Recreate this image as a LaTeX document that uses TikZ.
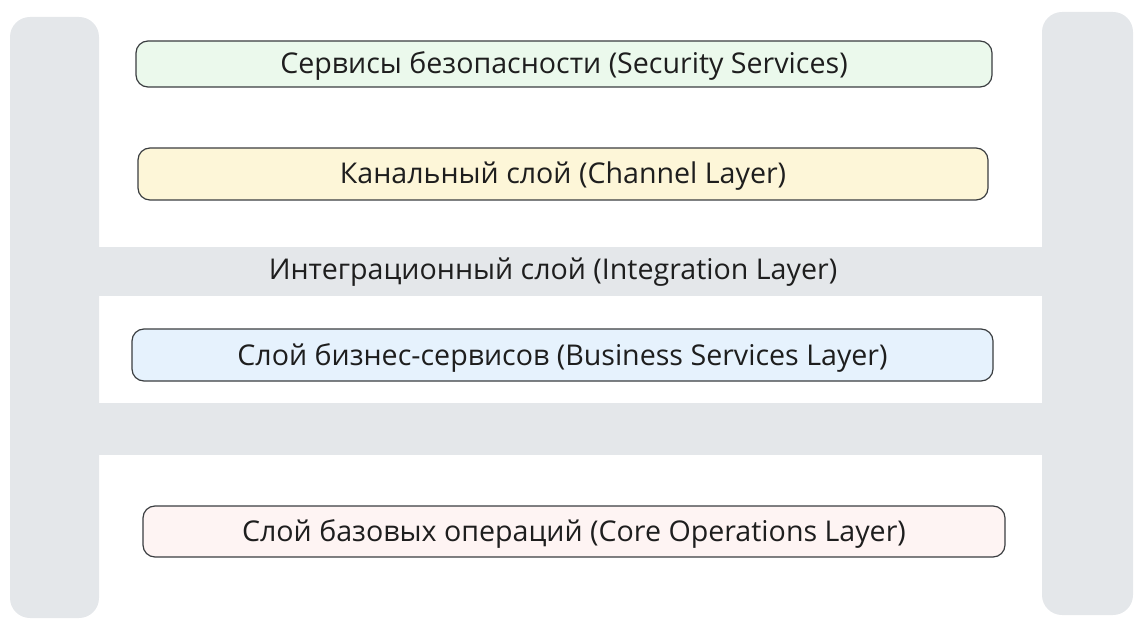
\documentclass[tikz,border=0pt]{standalone}
\usepackage{fontspec}
\setmainfont{Open Sans}
\definecolor{bandgray}{HTML}{E4E7EA}
\definecolor{secgreen}{HTML}{EBF9EC}
\definecolor{chanyellow}{HTML}{FDF6D8}
\definecolor{busblue}{HTML}{E6F2FD}
\definecolor{corepink}{HTML}{FEF4F3}
\definecolor{edge}{HTML}{3A3D40}
\definecolor{ink}{HTML}{1E1E1E}
\tikzset{
  layerbox/.style={draw=edge, line width=0.6pt, rounded corners=6pt,
    inner sep=0pt, text=ink, text height=13pt, text depth=3pt,
    font=\fontsize{14.3}{17}\selectfont},
  bandtext/.style={text=ink, font=\fontsize{14.3}{17}\selectfont}
}
\begin{document}
\begin{tikzpicture}[x=0.5pt,y=-0.5pt]
\useasboundingbox (0,0) rectangle (1145,636);
% gray frame: two posts and two cross bands
\fill[bandgray, rounded corners=10pt] (10,17) rectangle (99,618);
\fill[bandgray, rounded corners=10pt] (1042,12) rectangle (1133,615);
\fill[bandgray] (97,247) rectangle (1044,296);
\fill[bandgray] (97,403) rectangle (1044,455);
% layers
\node[layerbox, fill=secgreen, minimum width=428pt, minimum height=23pt] (security) at (564,64) {Сервисы безопасности (Security Services)};
\node[layerbox, fill=chanyellow, minimum width=425pt, minimum height=26pt] (channel) at (563,174) {Канальный слой (Channel Layer)};
\node[bandtext] (integration) at (553,272) {Интеграционный слой (Integration Layer)};
\node[layerbox, fill=busblue, minimum width=430.5pt, minimum height=26pt] (business) at (562.5,355) {Слой бизнес-сервисов (Business Services Layer)};
\node[layerbox, fill=corepink, minimum width=431pt, minimum height=25.5pt] (core) at (574,531.5) {Слой базовых операций (Core Operations Layer)};
\end{tikzpicture}
\end{document}
